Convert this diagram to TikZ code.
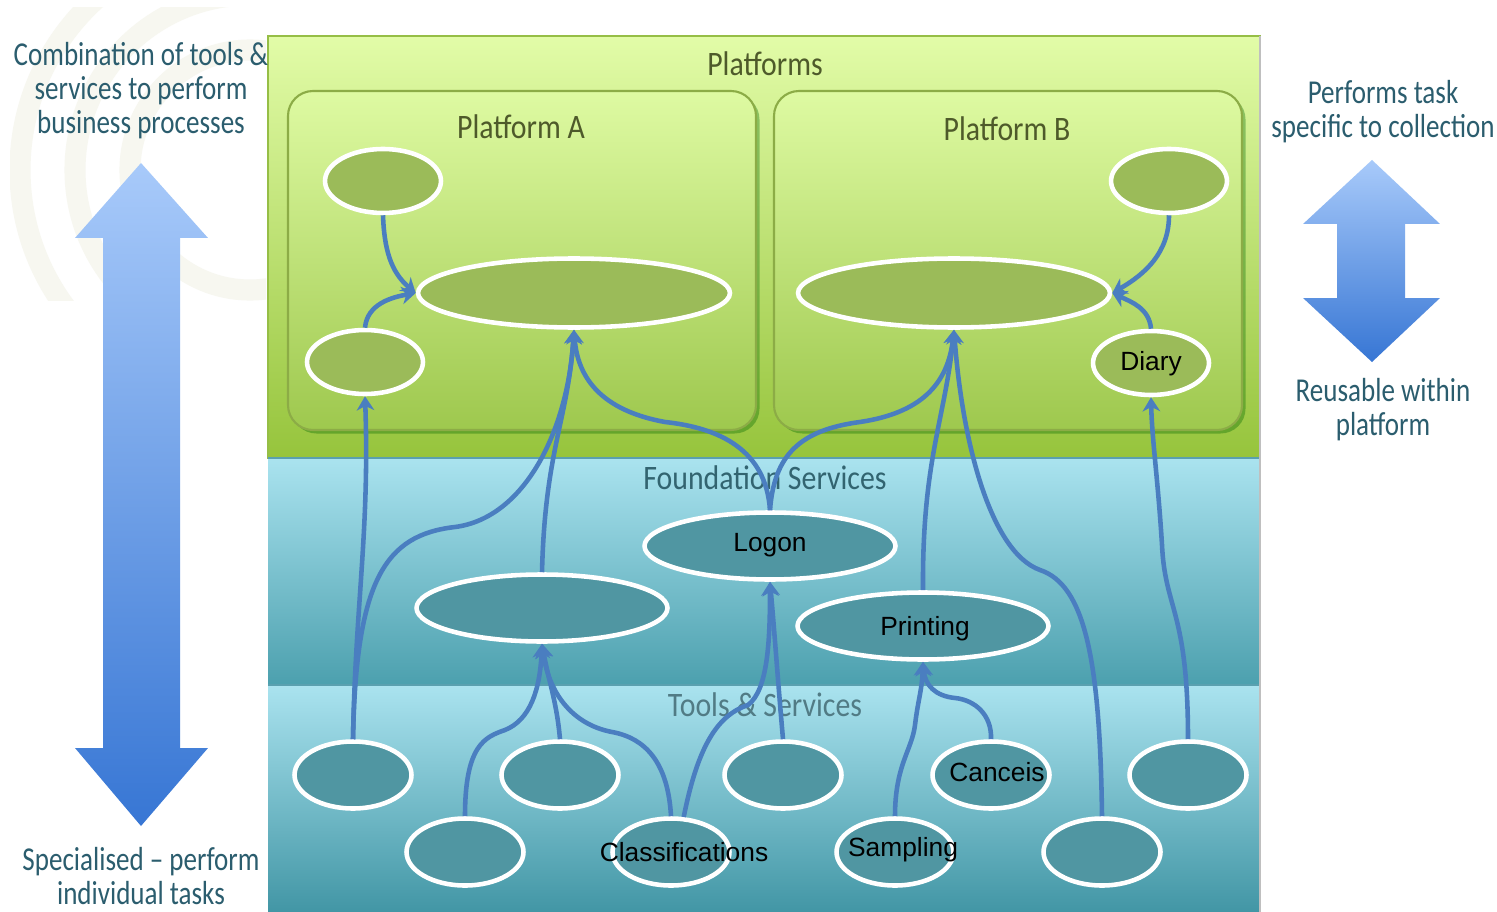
\documentclass[tikz,border=0pt]{standalone}
\usepackage{fontspec}
\setmainfont{Carlito}
\newfontfamily\sidef[FakeStretch=0.81,Ligatures=TeX]{Carlito}
\newfontfamily\ttlf[FakeStretch=0.87,Ligatures=TeX]{Carlito}
\newfontfamily\arialf{Liberation Sans}
\usetikzlibrary{arrows.meta,shapes.geometric,shadows}
\definecolor{connc}{RGB}{74,126,192}
\definecolor{gfill}{RGB}{155,187,89}
\definecolor{tfill}{RGB}{80,150,162}
\definecolor{sidetxt}{RGB}{43,93,110}
\definecolor{gtitle}{RGB}{78,90,42}
\definecolor{ttitle}{RGB}{50,100,112}
\definecolor{pltop}{RGB}{226,252,168}
\definecolor{plbot}{RGB}{150,196,60}
\definecolor{plborder}{RGB}{150,190,70}
\definecolor{ibtop}{RGB}{222,250,162}
\definecolor{ibbot}{RGB}{158,200,78}
\definecolor{ibborder}{RGB}{140,172,70}
\definecolor{fstop}{RGB}{170,227,239}
\definecolor{fsbot}{RGB}{76,160,174}
\definecolor{tsbot}{RGB}{66,150,165}
\definecolor{bandline}{RGB}{90,160,175}
\definecolor{arrtop}{RGB}{168,202,250}
\definecolor{arrbot}{RGB}{55,118,212}
\definecolor{swirl}{RGB}{247,247,240}
\begin{document}
\begin{tikzpicture}[x=0.02cm,y=0.02cm,
  ell/.style={ellipse,draw=white,line width=2.6pt,inner sep=0pt},
  gsm/.style={ell,fill=gfill,minimum width=2.32cm,minimum height=1.28cm},
  gbig/.style={ell,fill=gfill,minimum width=6.24cm,minimum height=1.38cm},
  fnd/.style={ell,fill=tfill,minimum width=5.02cm,minimum height=1.34cm},
  tool/.style={ell,fill=tfill,minimum width=2.34cm,minimum height=1.34cm},
  lbl/.style={font=\arialf\fontsize{15}{17}\selectfont,text=black,inner sep=0pt},
  ttl/.style={font=\ttlf\fontsize{19.5}{22}\selectfont,inner sep=0pt},
  side/.style={font=\sidef\fontsize{19}{19.3}\selectfont,text=sidetxt,align=center,inner sep=0pt},
  conn/.style={draw=connc,line width=2.6pt},
  arr/.style={conn,-{Stealth[length=8pt,width=10pt,inset=2.5pt]}},
  ibox/.style={shade,top color=ibtop,bottom color=ibbot,draw=ibborder,line width=1.2pt,rounded corners=0.5cm,
    drop shadow={opacity=0.35,shadow xshift=2pt,shadow yshift=-2pt,fill=black!60!green}},
  dbl/.style={shade,top color=arrtop,bottom color=arrbot}
]
\useasboundingbox (0,0) rectangle (1497,-912);
\fill[white] (0,0) rectangle (1497,-912);
% faint watermark
\begin{scope}
\clip (10,-8) rectangle (266,-300);
\foreach \r in {120,175,230}
  \draw[swirl,line width=12pt] (250,-170) circle (\r);
\end{scope}
% bands
\path[shade,top color=pltop,bottom color=plbot,draw=plborder,line width=1pt] (268,-36) rectangle (1260,-458);
\path[shade,top color=fstop,bottom color=fsbot] (268,-458) rectangle (1260,-685);
\path[shade,top color=fstop,bottom color=tsbot] (268,-685) rectangle (1260,-912);
\draw[bandline,line width=1.2pt] (268,-458) -- (1260,-458);
\draw[bandline,line width=1.2pt] (268,-685) -- (1260,-685);
\draw[black!25,line width=1.5pt] (1260,-36) -- (1260,-912);
% inner platform boxes
\path[ibox] (288,-91) rectangle (756,-430);
\path[ibox] (774,-91) rectangle (1242,-430);
% titles
\node[ttl,text=gtitle] (tPlat) at (765,-64) {Platforms};
\node[ttl,text=gtitle] (tA) at (521,-127) {Platform A};
\node[ttl,text=gtitle] (tB) at (1007,-129) {Platform B};
\node[ttl,text=ttitle] (tF) at (765,-478) {Foundation Services};
\node[ttl,text=ttitle!85!white] (tT) at (765,-705) {Tools \& Services};
% side texts
\node[side] (sTL) at (141,-91) {Combination of tools \&\\services to perform\\business processes};
\node[side] (sBL) at (141,-876) {Specialised – perform\\individual tasks};
\node[side] (sTR) at (1383,-112) {Performs task\\specific to collection};
\node[side] (sBR) at (1383,-410) {Reusable within\\platform};
% double arrows
\path[dbl] (141,-163) -- (208,-238) -- (180,-238) -- (180,-748) -- (208,-748) -- (141,-826)
  -- (75,-748) -- (103,-748) -- (103,-238) -- (75,-238) -- cycle;
\path[dbl] (1372,-160) -- (1440,-224) -- (1405,-224) -- (1405,-298) -- (1440,-298) -- (1372,-362)
  -- (1303,-298) -- (1337,-298) -- (1337,-224) -- (1303,-224) -- cycle;
% platform ellipses
\node[gsm] (topA) at (383,-181) {};
\node[gbig] (bigA) at (574,-293) {};
\node[gsm] (lowA) at (365,-362) {};
\node[gsm] (topB) at (1169,-181) {};
\node[gbig] (bigB) at (954,-293) {};
\node[gsm] (diary) at (1151,-363) {};
% foundation ellipses
\node[fnd] (logon) at (770,-546) {};
\node[fnd] (fone) at (542,-608) {};
\node[fnd] (print) at (923,-626) {};
% tools ellipses
\node[tool] (tA1) at (353,-775) {};
\node[tool] (tA2) at (465,-852) {};
\node[tool] (tA3) at (560,-775) {};
\node[tool] (cls) at (671,-852) {};
\node[tool] (tA5) at (783,-775) {};
\node[tool] (smp) at (895,-852) {};
\node[tool] (cnc) at (991,-775) {};
\node[tool] (tA8) at (1102,-852) {};
\node[tool] (tA9) at (1188,-775) {};
% labels
\node[lbl] (diaryL) at (1151,-364) {Diary};
\node[lbl] (logonL) at (770,-545) {Logon};
\node[lbl] (printL) at (925,-629) {Printing};
\node[lbl] (cncL) at (997,-772) {Canceis};
\node[lbl] (smpL) at (903,-850) {Sampling};
\node[lbl] (clsL) at (684,-852) {Classifications};
% connectors inside platforms
\draw[arr] (topA.south) to[out=-88,in=140] (bigA.west);
\draw[arr] (lowA.north) to[out=85,in=190] (bigA.west);
\draw[arr] (topB.south) to[out=-90,in=30] (bigB.east);
\draw[arr] (diary.north) to[out=95,in=-25] (bigB.east);
% connectors to platform A
\draw[arr] (tA1.north) to[out=89,in=-88] (lowA.south);
\draw[arr] (tA1.north) .. controls (356,-580) and (385,-535) .. (455,-527)
  .. controls (525,-518) and (568,-430) .. (bigA.south);
\draw[arr] (fone.north) .. controls (545,-450) and (568,-420) .. (bigA.south);
\draw[arr] (logon.north) .. controls (766,-450) and (720,-428) .. (665,-422)
  .. controls (610,-412) and (578,-385) .. (bigA.south);
% connectors to platform B
\draw[arr] (logon.north) .. controls (774,-455) and (800,-430) .. (860,-422)
  .. controls (920,-413) and (948,-385) .. (bigB.south);
\draw[arr] (print.north) .. controls (922,-460) and (945,-420) .. (bigB.south);
\draw[arr] (tA8.north) .. controls (1100,-660) and (1085,-585) .. (1040,-570)
  .. controls (990,-552) and (962,-440) .. (bigB.south);
\draw[arr] (tA9.north) .. controls (1188,-610) and (1165,-610) .. (1162,-545)
  .. controls (1158,-480) and (1152,-440) .. (diary.south);
% connectors to foundation
\draw[arr] (tA2.north) .. controls (465,-745) and (485,-737) .. (505,-730)
  .. controls (530,-720) and (540,-690) .. (fone.south);
\draw[arr] (tA3.north) to[out=95,in=-80] (fone.south);
\draw[arr] (cls.north) .. controls (668,-762) and (645,-738) .. (612,-732)
  .. controls (570,-724) and (548,-690) .. (fone.south);
\draw[arr] (cls.70) .. controls (698,-745) and (718,-715) .. (748,-705)
  .. controls (768,-690) and (770,-640) .. (logon.south);
\draw[arr] (tA5.north) to[out=95,in=-85] (logon.south);
\draw[arr] (smp.north) .. controls (895,-765) and (912,-750) .. (915,-725)
  .. controls (918,-700) and (922,-690) .. (print.south);
\draw[arr] (cnc.north) .. controls (992,-715) and (975,-700) .. (955,-698)
  .. controls (935,-696) and (925,-685) .. (print.south);
\end{tikzpicture}
\end{document}
